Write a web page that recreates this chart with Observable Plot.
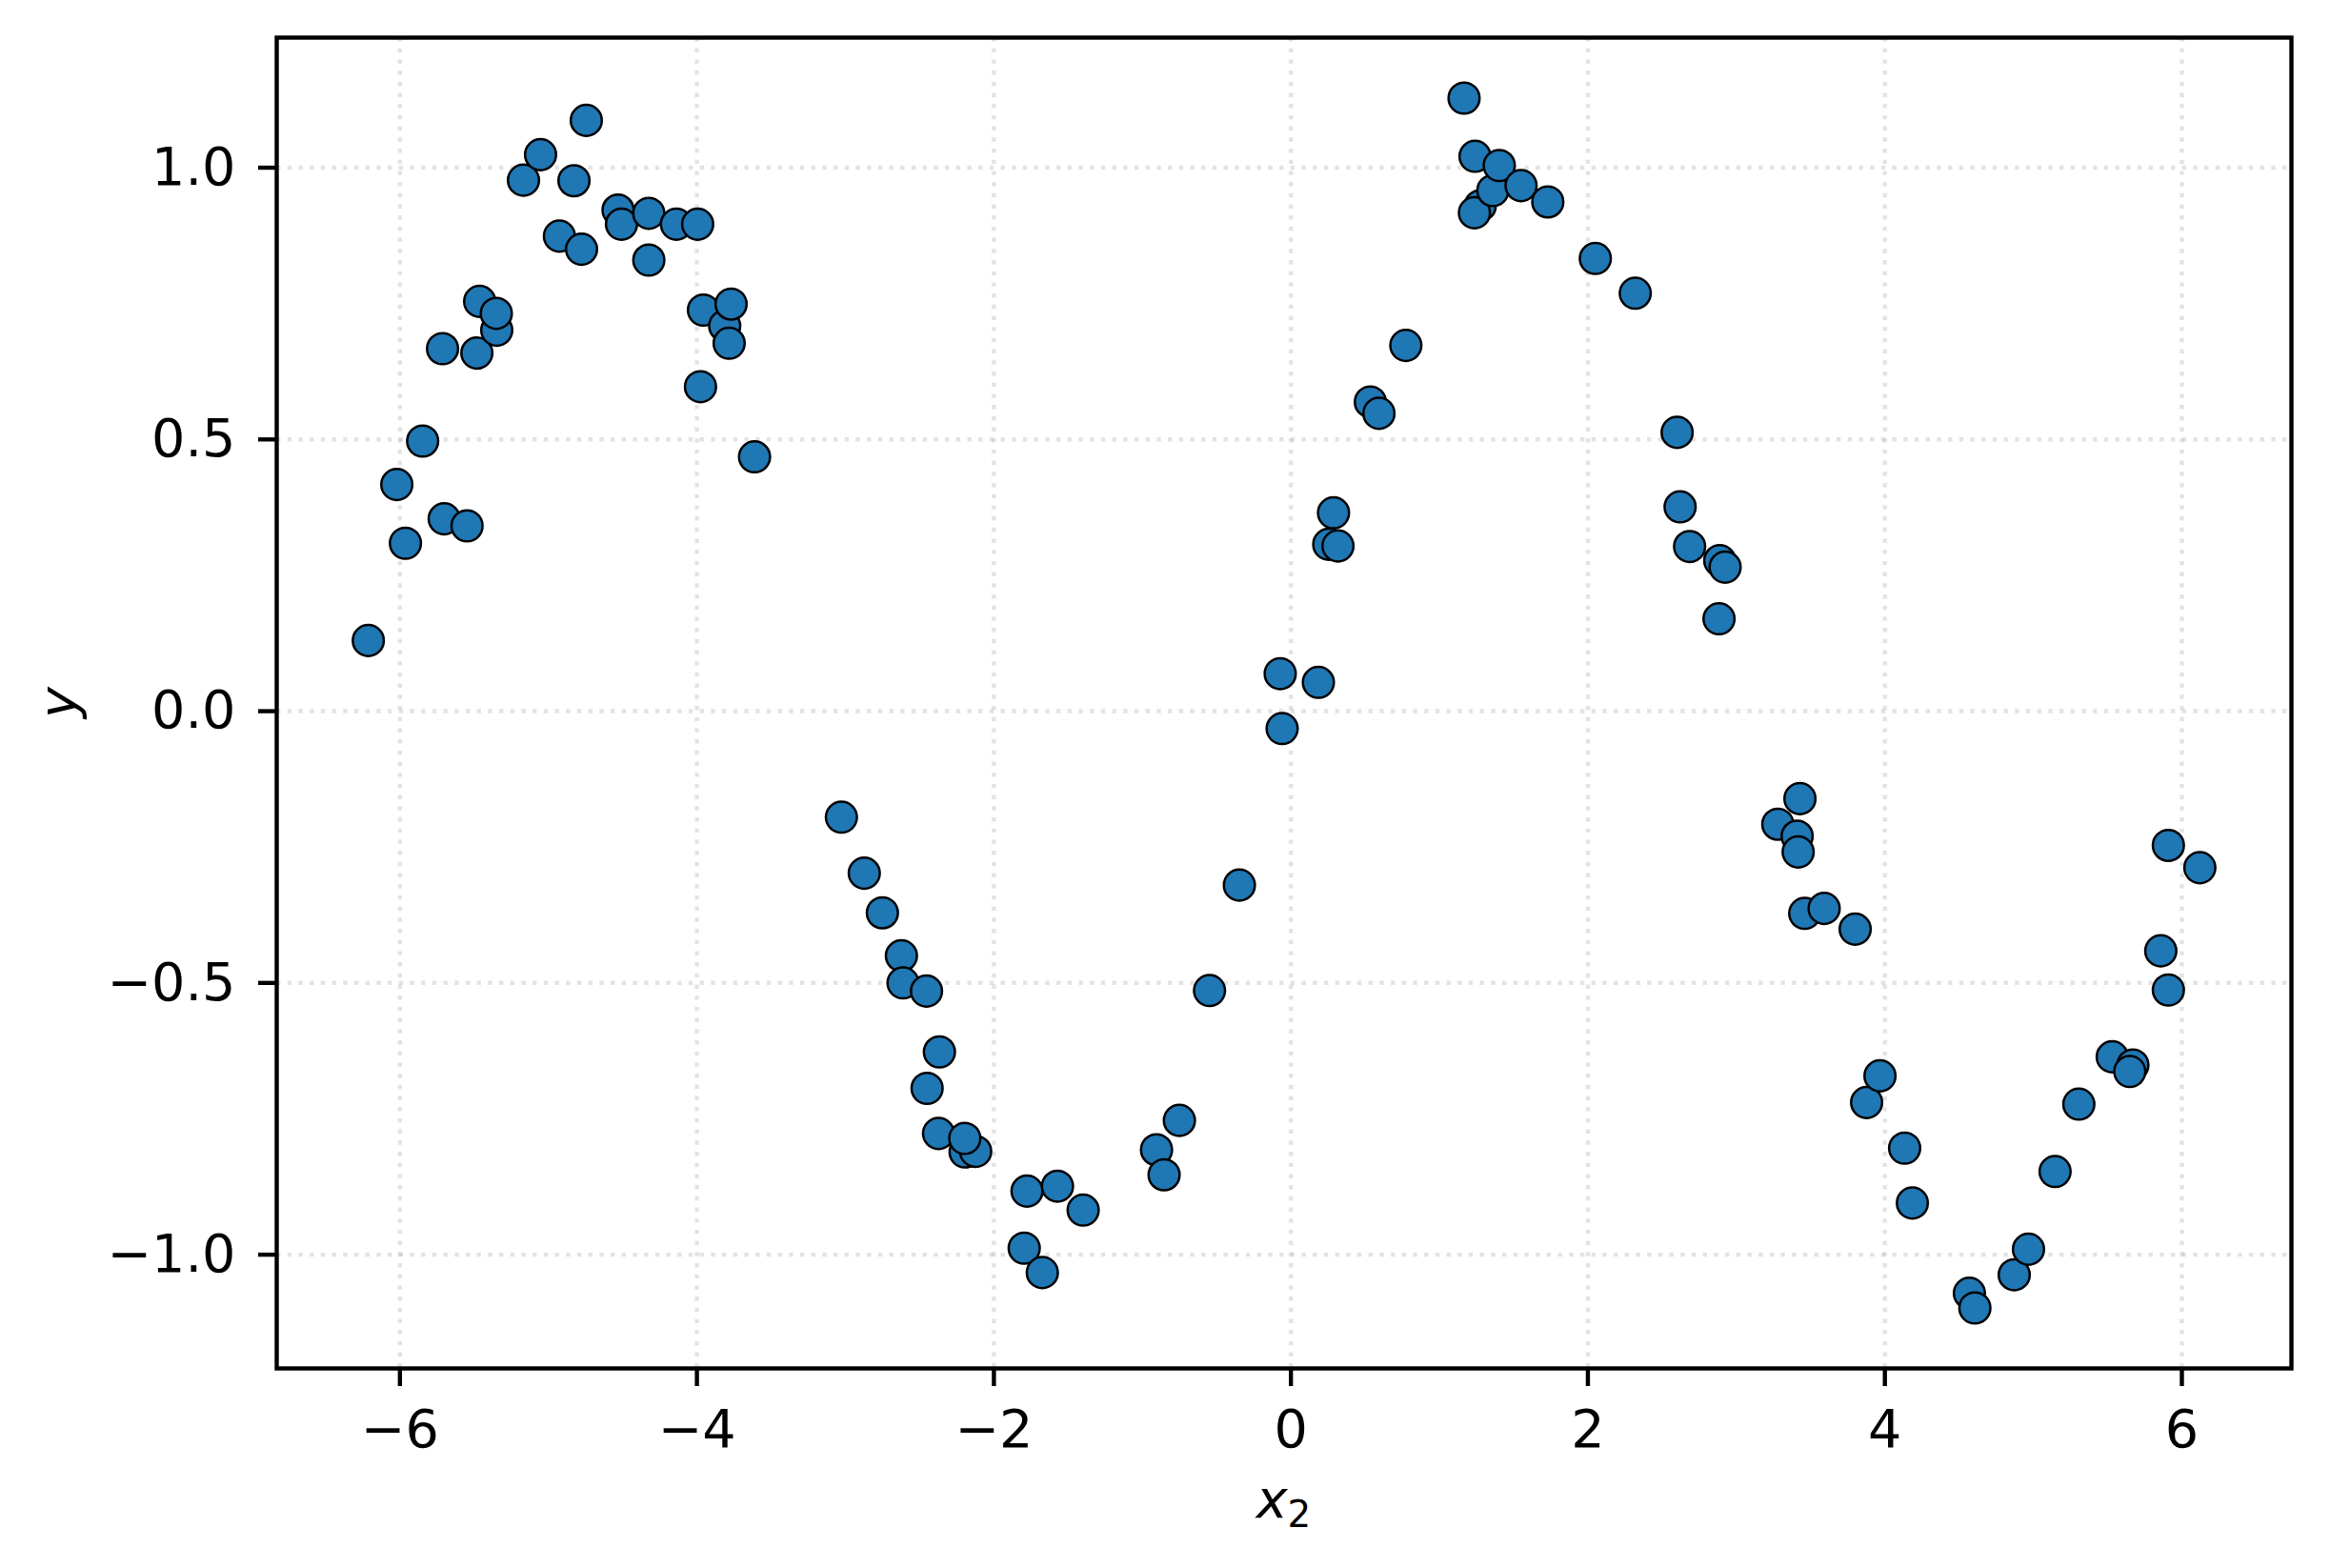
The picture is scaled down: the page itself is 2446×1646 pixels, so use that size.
<!DOCTYPE html>
<html>
<head>
<meta charset="utf-8">
<script src="https://cdn.jsdelivr.net/npm/d3@7"></script>
<script src="https://cdn.jsdelivr.net/npm/@observablehq/plot@0.6"></script>
<style>
  html, body { margin: 0; padding: 0; background: #ffffff; }
  #chart svg { display: block; }
</style>
</head>
<body>
<div id="chart"></div>
<script>
// Data
const xValues = [
  -6.213, -6.021, -5.963, -5.847, -5.713, -5.702, -5.548, -5.482, -5.463, -5.348,
  -5.351, -5.168, -5.053, -4.926, -4.828, -4.777, -4.745, -4.531, -4.508, -4.324,
  -4.324, -4.138, -3.995, -3.956, -3.976, -3.813, -3.770, -3.783, -3.612, -3.027,
  -2.873, -2.751, -2.623, -2.612, -2.454, -2.367, -2.450, -2.373, -2.194, -2.123,
  -2.196, -1.777, -1.796, -1.674, -1.572, -1.399, -0.905, -0.854, -0.751, -0.548,
  -0.347, -0.072, -0.059, 0.185, 0.255, 0.287, 0.317, 0.535, 0.593, 0.774,
  1.166, 1.240, 1.275, 1.236, 1.360, 1.403, 1.550, 1.730, 2.050, 2.319,
  2.601, 2.621, 2.685, 2.888, 2.924, 2.883, 3.279, 3.428, 3.409, 3.416,
  3.460, 3.591, 3.800, 3.877, 3.967, 4.133, 4.185, 4.569, 4.606, 4.871,
  4.967, 5.146, 5.306, 5.531, 5.670, 5.649, 5.858, 5.909, 5.909, 6.121
];
const yValues = [
  0.130, 0.417, 0.309, 0.497, 0.667, 0.354, 0.341, 0.659, 0.754, 0.701,
  0.732, 0.977, 1.024, 0.874, 0.976, 0.850, 1.087, 0.922, 0.896, 0.916,
  0.830, 0.896, 0.896, 0.738, 0.597, 0.709, 0.749, 0.677, 0.468, -0.195,
  -0.298, -0.371, -0.450, -0.500, -0.515, -0.627, -0.694, -0.777, -0.811, -0.810,
  -0.786, -0.883, -0.988, -1.033, -0.874, -0.918, -0.807, -0.853, -0.753, -0.514,
  -0.320, 0.069, -0.032, 0.053, 0.307, 0.365, 0.304, 0.569, 0.548, 0.673,
  1.128, 1.021, 0.930, 0.917, 0.958, 1.004, 0.967, 0.937, 0.833, 0.769,
  0.513, 0.376, 0.303, 0.277, 0.265, 0.170, -0.208, -0.161, -0.230, -0.259,
  -0.372, -0.363, -0.401, -0.720, -0.671, -0.804, -0.905, -1.071, -1.098, -1.037,
  -0.990, -0.847, -0.723, -0.636, -0.651, -0.663, -0.441, -0.247, -0.513, -0.288
];
const xTicks = [-6, -4, -2, 0, 2, 4, 6];
const yTicks = [-1.0, -0.5, 0.0, 0.5, 1.0];
const xLabelBase = "x";
const xLabelSub = "2";
const yLabelText = "y";

const points = xValues.map((x, i) => ({x, y: yValues[i]}));

// matplotlib-like 5% margins
function padded(vals) {
  const [lo, hi] = d3.extent(vals);
  const m = (hi - lo) * 0.05;
  return [lo - m, hi + m];
}

const W = 2446, H = 1646;
const mL = 290, mR = 41, mT = 39, mB = 210;
const FS = 55.6;
const LW = 4.4;

const gridStyle = {stroke: "#b0b0b0", strokeOpacity: 0.35, strokeWidth: LW, strokeDasharray: "4.4,7.3"};

const chart = Plot.plot({
  width: W,
  height: H,
  marginLeft: mL,
  marginRight: mR,
  marginTop: mT,
  marginBottom: mB,
  style: {fontSize: FS + "px", fontFamily: "'DejaVu Sans', sans-serif", background: "#ffffff", color: "black"},
  x: {domain: padded(xValues)},
  y: {domain: padded(yValues)},
  marks: [
    Plot.gridX(xTicks, gridStyle),
    Plot.gridY(yTicks, gridStyle),
    Plot.dot(points, {x: "x", y: "y", r: 16.3, fill: "#1f77b4", stroke: "black", strokeWidth: 2.5}),
    Plot.frame({stroke: "black", strokeWidth: LW}),
    Plot.axisX({ticks: xTicks, tickSize: 19, tickPadding: 24, strokeWidth: LW, tickFormat: d3.format("d"), label: null, fontSize: FS}),
    Plot.axisY({ticks: yTicks, tickSize: 19, tickPadding: 24, strokeWidth: LW, tickFormat: d3.format(".1f"), label: null, fontSize: FS})
  ]
});

document.getElementById("chart").appendChild(chart);

// Axis titles (mathtext-like italic)
const svg = d3.select(chart);
const cx = (mL + (W - mR)) / 2;
const cy = (mT + (H - mB)) / 2;
const xl = svg.append("text")
  .attr("x", cx)
  .attr("y", 1593)
  .attr("text-anchor", "middle")
  .attr("font-family", "'DejaVu Sans', sans-serif")
  .attr("font-size", FS)
  .attr("fill", "black");
xl.append("tspan").attr("font-style", "italic").text(xLabelBase);
xl.append("tspan").attr("font-size", FS * 0.7).attr("dy", 10).text(xLabelSub);

svg.append("text")
  .attr("transform", `translate(80,${cy}) rotate(-90)`)
  .attr("text-anchor", "middle")
  .attr("font-family", "'DejaVu Sans', sans-serif")
  .attr("font-style", "italic")
  .attr("font-size", FS)
  .attr("fill", "black")
  .text(yLabelText);
</script>
</body>
</html>
